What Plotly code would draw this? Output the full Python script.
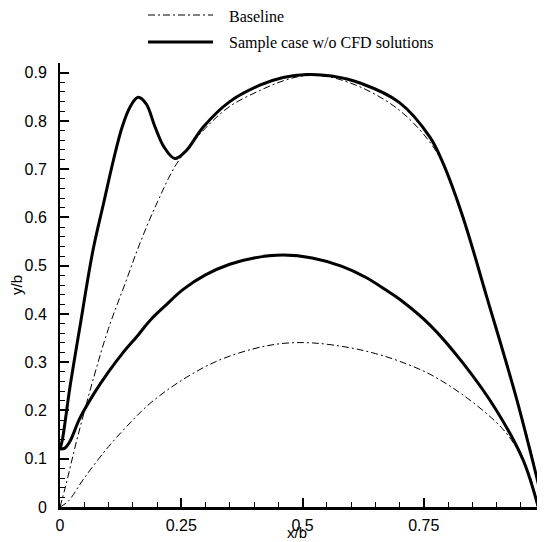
import plotly.graph_objects as go

# Baseline (thin dash-dot) - upper curve
base_outer_x = [0.0, 0.012, 0.035, 0.07, 0.1, 0.135, 0.165, 0.2, 0.241, 0.3, 0.35, 0.412, 0.46, 0.5, 0.55, 0.6, 0.65, 0.7, 0.75, 0.79, 0.831, 0.88, 0.942, 0.97, 0.998]
base_outer_y = [0.0, 0.045, 0.14, 0.27, 0.37, 0.465, 0.547, 0.63, 0.712, 0.785, 0.83, 0.863, 0.883, 0.893, 0.892, 0.878, 0.855, 0.822, 0.772, 0.712, 0.6, 0.435, 0.222, 0.12, 0.0]

# Baseline (thin dash-dot) - lower curve
base_inner_x = [0.0, 0.017, 0.05, 0.1, 0.15, 0.186, 0.25, 0.323, 0.4, 0.46, 0.52, 0.598, 0.65, 0.7, 0.763, 0.831, 0.9, 0.93, 0.955, 0.972, 0.986]
base_inner_y = [0.0, 0.012, 0.06, 0.125, 0.18, 0.215, 0.262, 0.302, 0.328, 0.339, 0.34, 0.33, 0.318, 0.302, 0.275, 0.232, 0.175, 0.14, 0.097, 0.055, 0.0]

# Sample case w/o CFD solutions (thick solid) - upper curve
samp_outer_x = [0.0, 0.005, 0.02, 0.041, 0.068, 0.09, 0.11, 0.128, 0.145, 0.161, 0.178, 0.195, 0.215, 0.237, 0.26, 0.295, 0.35, 0.412, 0.46, 0.509, 0.56, 0.62, 0.7, 0.763, 0.79, 0.831, 0.88, 0.942, 0.998]
samp_outer_y = [0.12, 0.14, 0.245, 0.373, 0.532, 0.63, 0.718, 0.787, 0.83, 0.849, 0.835, 0.79, 0.745, 0.722, 0.738, 0.787, 0.84, 0.874, 0.89, 0.896, 0.893, 0.878, 0.838, 0.766, 0.712, 0.6, 0.435, 0.222, 0.0]

# Sample case w/o CFD solutions (thick solid) - lower curve
samp_inner_x = [0.0, 0.01, 0.02, 0.041, 0.07, 0.1, 0.13, 0.16, 0.186, 0.22, 0.254, 0.3, 0.35, 0.4, 0.46, 0.52, 0.58, 0.63, 0.673, 0.701, 0.763, 0.831, 0.9, 0.955, 0.986]
samp_inner_y = [0.12, 0.122, 0.135, 0.184, 0.235, 0.28, 0.32, 0.355, 0.387, 0.42, 0.451, 0.481, 0.503, 0.516, 0.522, 0.516, 0.499, 0.476, 0.449, 0.43, 0.377, 0.298, 0.2, 0.097, 0.0]

x_tickvals = [0, 0.25, 0.5, 0.75, 1]
x_ticktext = ["0", "0.25", "0.5", "0.75", "1"]
y_tickvals = [0, 0.1, 0.2, 0.3, 0.4, 0.5, 0.6, 0.7, 0.8, 0.9]
y_ticktext = ["0", "0.1", "0.2", "0.3", "0.4", "0.5", "0.6", "0.7", "0.8", "0.9"]

legend_labels = ["Baseline", "Sample case w/o CFD solutions"]
x_title = "x/b"
y_title = "y/b"

thin = dict(color="black", width=1, dash="7px,3px,2px,3px")
thick = dict(color="black", width=3)

fig = go.Figure()
fig.add_trace(go.Scatter(x=base_outer_x, y=base_outer_y, mode="lines", line=thin, line_shape="spline", showlegend=False))
fig.add_trace(go.Scatter(x=base_inner_x, y=base_inner_y, mode="lines", line=thin, line_shape="spline", showlegend=False))
fig.add_trace(go.Scatter(x=samp_outer_x, y=samp_outer_y, mode="lines", line=thick, line_shape="spline", showlegend=False))
fig.add_trace(go.Scatter(x=samp_inner_x, y=samp_inner_y, mode="lines", line=thick, line_shape="spline", showlegend=False))

# page body has an 8px margin; compensate so the plot lands where the reference has it
OFF = 8
W, H = 537, 534
L, R, T, B = 52, 0, 55, 35
pw, ph = W - L - R, H - T - B
def sx(px):  # screen px -> paper x
    return (px - OFF - L) / pw
def sy(py):  # screen px -> paper y
    return (OFF + H - B - py) / ph

leg_rows = [(15, thin), (42, thick)]
for (py, st), lab in zip(leg_rows, legend_labels):
    fig.add_shape(type="line", xref="paper", yref="paper",
                  x0=sx(148), x1=sx(213), y0=sy(py), y1=sy(py), line=st)
    fig.add_annotation(xref="paper", yref="paper", x=sx(227), y=sy(py + 1),
                       text=lab, showarrow=False, xanchor="left", yanchor="middle",
                       font=dict(family="Liberation Serif, Times New Roman, serif", size=16, color="black"))

axis_font = dict(family="Liberation Sans, Arial, sans-serif", size=16, color="black")
title_font = dict(family="Liberation Sans, Arial, sans-serif", size=15, color="black")

# x-axis title, sitting just under the tick labels at the bottom edge
fig.add_annotation(xref="paper", yref="paper", x=sx(297), y=sy(542), text=x_title,
                   showarrow=False, xanchor="center", yanchor="bottom", borderpad=0,
                   font=title_font)

fig.update_layout(
    width=W, height=H,
    margin=dict(l=L, r=R, t=T, b=B, autoexpand=False),
    paper_bgcolor="white", plot_bgcolor="white",
    showlegend=False,
    xaxis=dict(range=[0, 1.0], tickvals=x_tickvals, ticktext=x_ticktext,
               showgrid=False, zeroline=False, showline=True, linecolor="black", linewidth=3,
               ticks="inside", ticklen=9, tickwidth=2, tickcolor="black",
               minor=dict(ticks="inside", ticklen=5, tickwidth=1, dtick=0.05, tickcolor="black", showgrid=False),
               tickfont=axis_font, ticklabelstandoff=2, automargin=False),
    yaxis=dict(range=[0, 0.92], tickvals=y_tickvals, ticktext=y_ticktext,
               showgrid=False, zeroline=False, showline=True, linecolor="black", linewidth=2,
               ticks="inside", ticklen=9, tickwidth=2, tickcolor="black",
               minor=dict(ticks="inside", ticklen=5, tickwidth=1, dtick=0.02, tickcolor="black", showgrid=False),
               tickfont=axis_font, ticklabelstandoff=8, automargin=False,
               title=dict(text=y_title, font=title_font, standoff=2)),
)

fig.write_html("out.html")
